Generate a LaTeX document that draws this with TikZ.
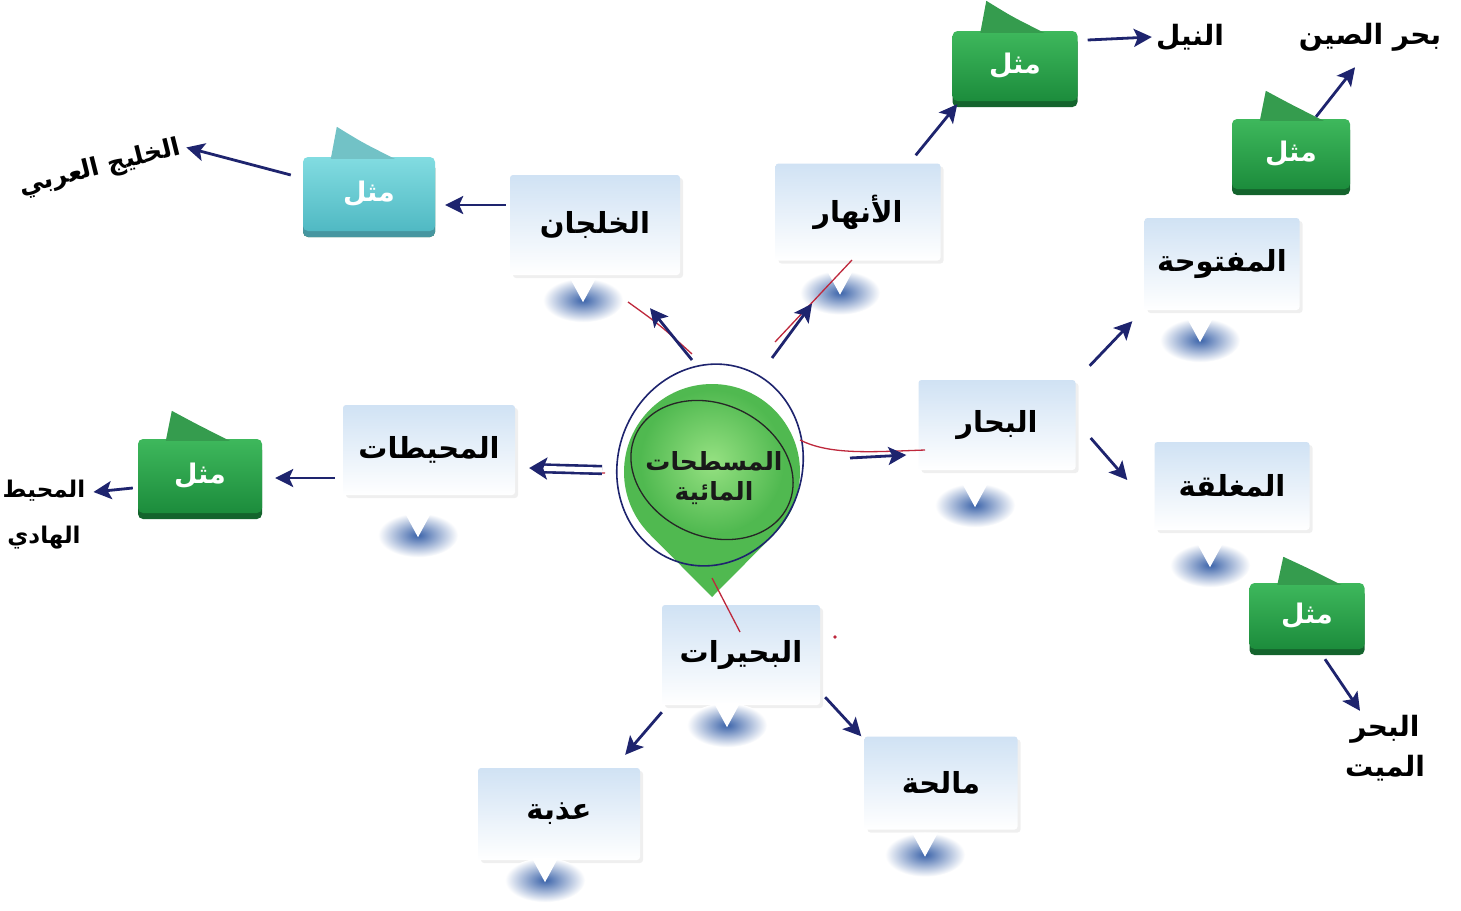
\documentclass[tikz,border=0pt]{standalone}
\usepackage{fontspec}
\usetikzlibrary{arrows.meta,shadings,shadows,calc}
\newfontfamily\arfont[Script=Arabic]{DejaVu Sans}
\TeXXeTstate=1
\definecolor{navy}{RGB}{30,36,110}
\definecolor{boxtop}{RGB}{208,226,244}
\definecolor{glowc}{RGB}{60,100,170}
\definecolor{gtop}{RGB}{62,184,92}
\definecolor{gbot}{RGB}{28,140,60}
\definecolor{gdark}{RGB}{20,100,45}
\definecolor{ctop}{RGB}{130,220,225}
\definecolor{cbot}{RGB}{80,185,195}
\definecolor{cdark}{RGB}{70,150,160}
\definecolor{cgreen}{RGB}{80,185,80}
\definecolor{clight}{RGB}{150,225,130}
\definecolor{redpen}{RGB}{190,40,60}
\newcommand\artext[1]{{\arfont\bfseries\beginR#1\endR}}
\newcommand\glowat[3]{%
  \path ($(#1.south)+(#2,#3)$) coordinate (g#1);
  \shade[inner color=glowc, outer color=white] (g#1) ellipse [x radius=40, y radius=22];
  \fill[white] ($(g#1)+(-13,-22)$) -- ($(g#1)+(13,-22)$) -- ($(g#1)+(0,2)$) -- cycle;}
\newcommand\tailof[3]{%
  \fill[#2] ($(#1.north west)+(28,2)$) -- ($(#1.north west)+(34,-#3)$)
     .. controls ($(#1.north west)+(60,-14)$) .. ($(#1.north west)+(92,2)$) -- cycle;}
\tikzset{
  box/.style={rectangle, rounded corners=3pt, top color=boxtop, bottom color=white,
    inner sep=0pt, font=\fontsize{29}{34}\selectfont, text=black,
    drop shadow={opacity=0.12, shadow xshift=3pt, shadow yshift=-3pt}},
  bubble/.style={rectangle, rounded corners=5pt, top color=gtop, bottom color=gbot,
    inner sep=0pt, font=\fontsize{27}{32}\selectfont, text=white,
    general shadow={fill=gdark, shadow yshift=-6pt}},
  cbubble/.style={bubble, top color=ctop, bottom color=cbot,
    general shadow={fill=cdark, shadow yshift=-6pt}},
  extext/.style={font=\fontsize{28}{40}\selectfont, text=black, align=center, inner sep=2pt},
  arr/.style={draw=navy, line width=2.8pt, -{Stealth[length=18pt,width=18pt,inset=4pt]}},
  pen/.style={draw=redpen, line width=1.3pt},
}
\begin{document}
\begin{tikzpicture}[x=1pt,y=-1pt]
\useasboundingbox[fill=white] (0,0) rectangle (1461,910);

% ---------- centre ----------
\fill[cgreen] (712,472) circle (88);
\fill[cgreen] (650.5,535) -- (712,597) -- (773.5,535) -- cycle;
\shade[inner color=clight, outer color=cgreen] (712,462) circle (72);
\draw[black!85, line width=1.3pt, rotate around={-25:(712,470)}] (712,470) ellipse [x radius=84, y radius=66];
\draw[navy, line width=1.6pt, rotate around={-20:(710,465)}] (710,465) ellipse [x radius=92, y radius=102];
\node[font=\fontsize{25}{36}\selectfont, text=black!90, align=center] (c) at (714,478)
  {\artext{المسطحات}\\[-6pt]\artext{المائية}};

% ---------- boxes ----------
\node[box, minimum width=170, minimum height=100] (khaljan) at (595,225) {\artext{الخلجان}};
\node[box, minimum width=165, minimum height=97] (anhar) at (858,212) {\artext{الأنهار}};
\node[box, minimum width=157, minimum height=90] (bihar) at (997,425) {\artext{البحار}};
\node[box, minimum width=155, minimum height=92] (maftuha) at (1222,264) {\artext{المفتوحة}};
\node[box, minimum width=155, minimum height=88] (mughlaqa) at (1232,486) {\artext{المغلقة}};
\node[box, minimum width=172, minimum height=90] (muhitat) at (429,450) {\artext{المحيطات}};
\node[box, minimum width=158, minimum height=100] (buhayrat) at (741,655) {\artext{البحيرات}};
\node[box, minimum width=162, minimum height=92] (adhba) at (559,814) {\artext{عذبة}};
\node[box, minimum width=153, minimum height=93] (maliha) at (941,783) {\artext{مالحة}};

\glowat{khaljan}{-12}{25}
\glowat{anhar}{-18}{32}
\glowat{bihar}{-22}{35}
\glowat{maftuha}{-22}{30}
\glowat{mughlaqa}{-22}{35}
\glowat{muhitat}{-11}{40}
\glowat{buhayrat}{-14}{20}
\glowat{adhba}{-14}{20}
\glowat{maliha}{-16}{25}

% ---------- example bubbles ----------
\node[bubble, minimum width=125, minimum height=70] (ex1) at (1015,66) {\artext{مثل}};
\node[bubble, minimum width=118, minimum height=70] (ex2) at (1291,154) {\artext{مثل}};
\node[cbubble, minimum width=132, minimum height=74] (ex3) at (369,194) {\artext{مثل}};
\node[bubble, minimum width=124, minimum height=74] (ex4) at (200,476) {\artext{مثل}};
\node[bubble, minimum width=115, minimum height=66] (ex5) at (1307,616) {\artext{مثل}};
\tailof{ex1}{gtop!85!black}{30}
\tailof{ex2}{gtop!85!black}{28}
\tailof{ex3}{ctop!88!black}{30}
\tailof{ex4}{gtop!85!black}{28}
\tailof{ex5}{gtop!85!black}{26}

% ---------- example texts ----------
\node[extext] (nile) at (1190,37) {\artext{النيل}};
\node[extext] (china) at (1370,37) {\artext{بحر الصين}};
\node[extext, font=\fontsize{25}{36}\selectfont, rotate=14] (gulf) at (100,168) {\artext{الخليج العربي}};
\node[extext, font=\fontsize{23}{46}\selectfont] (pacific) at (44,515) {\artext{المحيط}\\\artext{الهادي}};
\node[extext] (dead) at (1385,748) {\artext{البحر}\\\artext{الميت}};

% ---------- red pen marks ----------
\draw[pen] (628,302) .. controls (660,325) .. (692,354);
\draw[pen] (775,342) -- (852,260);
\draw[pen] (800,440) .. controls (830,455) and (870,452) .. (925,450);
\draw[pen] (605,473) -- (540,471);
\draw[pen] (712,578) -- (740,632);
\fill[redpen] (835,637) circle (1.8);

% ---------- connectors ----------
\draw[arr] ([xshift=-22pt,yshift=118pt]c.center) -- ([xshift=55pt,yshift=-33pt]khaljan.south);
\draw[arr] ([xshift=58pt,yshift=120pt]c.center) -- ([xshift=-46pt,yshift=-43pt]anhar.south);
\draw[arr] ([xshift=136pt,yshift=20pt]c.center) -- ([xshift=-12pt,yshift=-30pt]bihar.west);
\draw[navy, line width=2.6pt, double=white, double distance=5pt,
  -{Stealth[length=18pt,width=22pt,inset=4pt]}]
  ([xshift=-112pt,yshift=8pt]c.center) -- ([xshift=14pt,yshift=-18pt]muhitat.east);

\draw[arr] ([yshift=20pt,xshift=-4pt]khaljan.west) -- ([yshift=-11pt,xshift=10pt]ex3.east);
\draw[arr] ([yshift=19pt,xshift=-12pt]ex3.west) -- ([xshift=4pt]gulf.east);
\draw[arr] ([xshift=-25pt,yshift=8pt]anhar.north east) -- ([xshift=5pt,yshift=-3pt]ex1.south west);
\draw[arr] ([yshift=26pt,xshift=10pt]ex1.east) -- ([xshift=-2pt]nile.west);
\draw[arr] ([xshift=14pt,yshift=14pt]bihar.north east) -- ([xshift=-12pt,yshift=-11pt]maftuha.south west);
\draw[arr] ([xshift=15pt,yshift=-13pt]bihar.east) -- ([xshift=-27pt,yshift=6pt]mughlaqa.west);
\draw[arr] ([xshift=25pt,yshift=2pt]ex2.north) -- ([xshift=-15pt,yshift=-14pt]china.south);
\draw[arr] ([xshift=18pt,yshift=-10pt]ex5.south) -- ([xshift=-25pt,yshift=2pt]dead.north);
\draw[arr] ([yshift=-28pt,xshift=-8pt]muhitat.west) -- ([yshift=-2pt,xshift=13pt]ex4.east);
\draw[arr] ([yshift=-12pt,xshift=-5pt]ex4.west) -- ([yshift=23pt,xshift=6pt]pacific.east);
\draw[arr] ([yshift=-7pt]buhayrat.south west) -- ([xshift=-15pt,yshift=13pt]adhba.north east);
\draw[arr] ([xshift=5pt,yshift=8pt]buhayrat.south east) -- ([xshift=-3pt,yshift=0pt]maliha.north west);
\end{tikzpicture}
\end{document}
